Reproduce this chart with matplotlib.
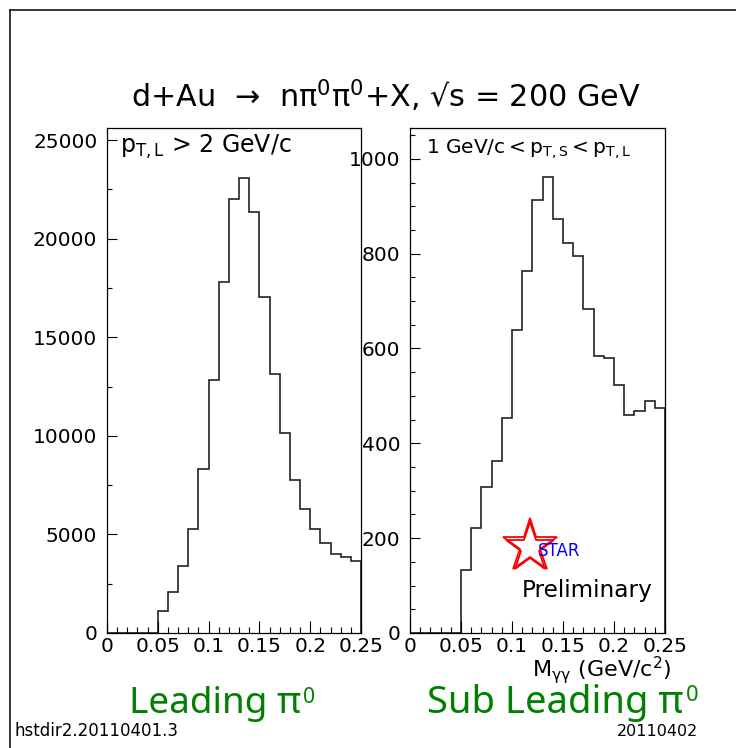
import numpy as np
import matplotlib
matplotlib.use("Agg")
import matplotlib.pyplot as plt
from matplotlib.lines import Line2D
from matplotlib.ticker import MultipleLocator

# M_gg bin edges (GeV/c^2), 25 bins of 0.01
bin_edges = np.round(np.linspace(0.0, 0.25, 26), 2)

# counts
leading_counts = [0, 0, 0, 0, 0, 1130, 2080, 3380, 5270, 8320,
                  12850, 17800, 22000, 23100, 21350, 17070, 13130, 10140, 7770, 6290,
                  5270, 4590, 4020, 3850, 3630]
subleading_counts = [0, 0, 0, 0, 0, 133, 221, 307, 363, 453,
                     638, 763, 913, 961, 873, 823, 796, 684, 585, 580,
                     523, 460, 469, 489, 475]

x_ticks = [0, 0.05, 0.1, 0.15, 0.2, 0.25]
x_ticklabels = ["0", "0.05", "0.1", "0.15", "0.2", "0.25"]

W, H = 736, 748


def fx(px):
    return px / W


def fy(py):
    return 1 - py / H


fig = plt.figure(figsize=(W / 100, H / 100), dpi=100)
plt.rcParams["mathtext.fontset"] = "dejavusans"

# outer pad frame
fig.add_artist(Line2D([fx(10), fx(10)], [fy(10), 0], color="black", lw=1.1))
fig.add_artist(Line2D([fx(10), 1], [fy(10), fy(10)], color="black", lw=1.1))

ax1 = fig.add_axes([fx(107), fy(633), 254 / W, 505 / H])
ax2 = fig.add_axes([fx(410), fy(633), 255 / W, 505 / H])


def style_axis(ax, ymax, ymajor, yminor):
    ax.set_xlim(0, 0.25)
    ax.set_ylim(0, ymax)
    ax.set_xticks(x_ticks)
    ax.set_xticklabels(x_ticklabels)
    ax.xaxis.set_minor_locator(MultipleLocator(0.01))
    ax.yaxis.set_major_locator(MultipleLocator(ymajor))
    ax.yaxis.set_minor_locator(MultipleLocator(yminor))
    ax.tick_params(axis="x", which="major", direction="in", length=8.5, width=0.8,
                   labelsize=14.5, pad=3)
    ax.tick_params(axis="x", which="minor", direction="in", length=4.2, width=0.8)
    ax.tick_params(axis="y", which="major", direction="in", length=7, width=0.8,
                   labelsize=14.5, pad=7)
    ax.tick_params(axis="y", which="minor", direction="in", length=3.8, width=0.8)
    for sp in ax.spines.values():
        sp.set_linewidth(0.9)
        sp.set_color("black")


ax1.stairs(leading_counts, bin_edges, color="#222222", lw=1.2)
style_axis(ax1, 25620, 5000, 2500)

ax2.stairs(subleading_counts, bin_edges, color="#222222", lw=1.2)
style_axis(ax2, 1065, 200, 50)

# title and panel labels
fig.text(fx(386), fy(107), "d+Au  \u2192  n\u03c0$^0$\u03c0$^0$+X, \u221as = 200 GeV",
         ha="center", va="baseline", fontsize=21.8)
fig.text(fx(120), fy(153), r"$\mathregular{p_{T,L}}$ > 2 GeV/c",
         ha="left", va="baseline", fontsize=17)
fig.text(fx(426), fy(154), r"1 GeV/c$\mathregular{<p_{T,S}<p_{T,L}}$",
         ha="left", va="baseline", fontsize=14.5)
fig.text(fx(672), fy(677), r"$\mathregular{M_{\gamma\gamma}}$ (GeV/c$^{2}$)",
         ha="right", va="baseline", fontsize=16)

# STAR preliminary stamp
ax2.plot([0.47], [0.172], marker="*", ms=41, mfc="none", mec="red", mew=1.3,
         transform=ax2.transAxes, clip_on=False)
ax2.plot([0.472], [0.168], marker="*", ms=37, mfc="none", mec="red", mew=1.3,
         transform=ax2.transAxes, clip_on=False)
ax2.text(0.501, 0.153, "STAR", color="blue", fontsize=12, transform=ax2.transAxes)
ax2.text(0.439, 0.071, "Preliminary", color="black", fontsize=16.7,
         transform=ax2.transAxes)

# green panel names
green = "#008000"
for x0, label, size in [(129, "Leading \u03c0", 26.5), (427, "Sub Leading \u03c0", 27.5)]:
    t = fig.text(fx(x0), fy(713), label, color=green, fontsize=size,
                 family="Noto Sans", ha="left", va="baseline")
    ax1.annotate("0", xy=(1, 1), xycoords=t, xytext=(1.5, -1), textcoords="offset points",
                 ha="left", va="top", color=green, fontsize=size * 0.57, family="Noto Sans",
                 annotation_clip=False)

# footer
fig.text(fx(14), fy(736), "hstdir2.20110401.3", ha="left", va="baseline", fontsize=12)
fig.text(fx(698), fy(736), "20110402", ha="right", va="baseline", fontsize=11.5)

fig.savefig("out.png", dpi=100)
